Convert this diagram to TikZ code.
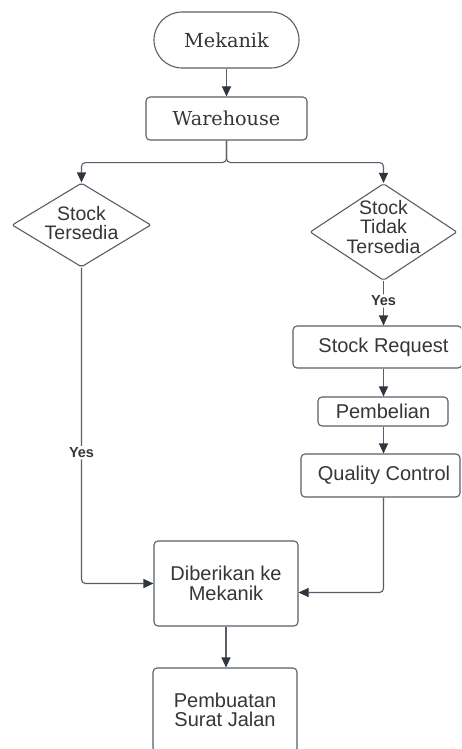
\documentclass[tikz,border=0pt]{standalone}
\usepackage{fontspec}
\newfontfamily\serifk{DejaVu Serif}
\newfontfamily\sansk{Liberation Sans}
\usetikzlibrary{shapes.geometric,arrows.meta,calc}
\definecolor{linec}{HTML}{5A5E66}
\definecolor{headc}{HTML}{2F3640}
\definecolor{txtc}{HTML}{363636}
\tikzset{
  box/.style={draw=linec, line width=1.1pt, rounded corners=4pt, inner sep=0pt, fill=white,
    text=txtc, align=center, font=\sansk\fontsize{20}{19.5}\selectfont},
  term/.style={box, rounded corners=28pt, font=\serifk\fontsize{19.3}{20}\selectfont},
  sbox/.style={box, font=\serifk\fontsize{19.2}{20}\selectfont},
  dia/.style={draw=linec, line width=1.1pt, shape=diamond, inner sep=0pt, rounded corners=2pt},
  dtxt/.style={text=txtc, align=center, inner sep=0pt, font=\sansk\fontsize{19.5}{19.5}\selectfont},
  arr/.style={draw=linec, line width=1.1pt, rounded corners=4pt, -{Triangle[length=10pt,width=9pt,color=headc]}},
  yes/.style={fill=white, text=txtc, inner sep=1.5pt, font=\sansk\bfseries\fontsize{14.5}{15}\selectfont}
}
\begin{document}
\begin{tikzpicture}[x=1pt,y=-1pt]
\useasboundingbox (0,0) rectangle (461,749);
\clip (0,0) rectangle (461,749);
\fill[white] (0,0) rectangle (461,749);

\node[term, minimum width=145pt, minimum height=56pt] (mek) at (226.5,40) {Mekanik};
\node[sbox, minimum width=161pt, minimum height=43pt] (wh) at (226.5,118.5) {Warehouse};

\node[dia, minimum width=139pt, minimum height=84pt] (d1) at (81.5,225) {};
\node[dtxt] (d1t) at (81.5,223) {Stock\\Tersedia};
\node[dia, minimum width=147pt, minimum height=97pt] (d2) at (383.5,232) {};
\node[dtxt] (d2t) at (383.5,227) {Stock\\Tidak\\Tersedia};

\node[box, minimum width=169pt, minimum height=42pt] (sr) at (377.5,347) {\hspace*{12pt}Stock Request};
\node[box, minimum width=130pt, minimum height=29pt] (pem) at (383,411.5) {Pembelian};
\node[box, minimum width=159pt, minimum height=43pt] (qc) at (380.5,475.5) {\hspace*{7pt}Quality Control};

\node[box, minimum width=144pt, minimum height=85pt] (dib) at (226,583.5) {Diberikan ke\\Mekanik};
\node[box, minimum width=144pt, minimum height=84pt] (pb) at (225,710) {Pembuatan\\Surat Jalan};

\draw[arr] (mek.south) -- (wh.north);
\draw[arr] (wh.south) -- ++(0,22) -| (d1.north);
\draw[arr] (wh.south) -- ++(0,22) -| (d2.north);
\draw[arr] (d2.south) -- (d2.south |- sr.north) node[yes, pos=0.45] {Yes};
\draw[arr] (sr.south -| d2.south) -- (pem.north -| d2.south);
\draw[arr] (pem.south -| d2.south) -- (qc.north -| d2.south);
\draw[arr] (qc.south -| d2.south) |- ([yshift=-9pt]dib.east);
\draw[arr] (d1.south) |- (dib.west) node[yes, pos=0.293] {Yes};
\draw[arr] (dib.south) -- (dib.south |- pb.north);
\end{tikzpicture}
\end{document}
